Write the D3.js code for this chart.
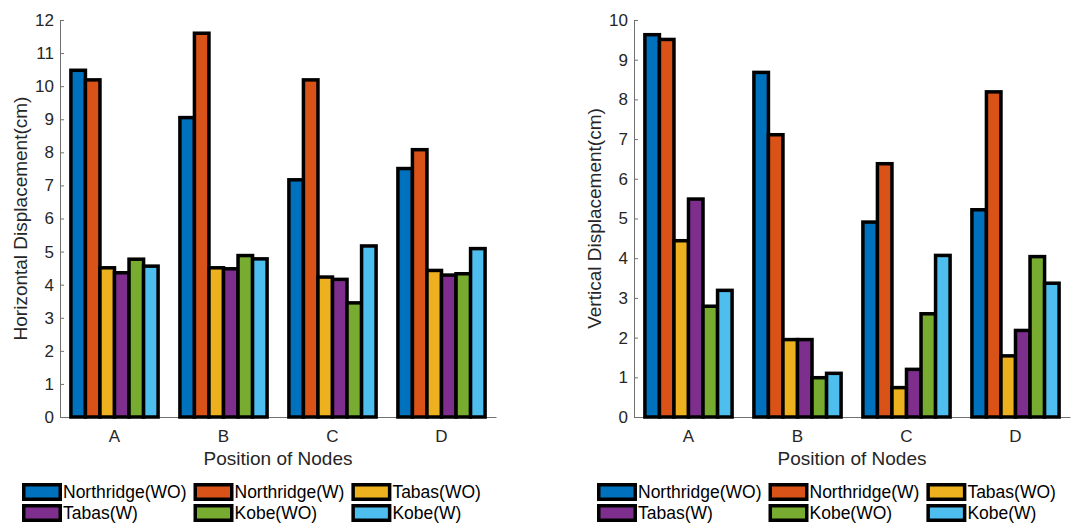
<!DOCTYPE html>
<html>
<head>
<meta charset="utf-8">
<script src="https://cdn.jsdelivr.net/npm/d3@7"></script>
<style>
  body { margin: 0; background: #fff; }
  svg text { font-family: "Liberation Sans", Arial, sans-serif; }
</style>
</head>
<body>
<svg width="1075" height="530"></svg>
<script>
// node positions (x categories)
var nodes = ["A", "B", "C", "D"];
// load cases, one row of values per case
var seriesNames = ["Northridge(WO)", "Northridge(W)", "Tabas(WO)", "Tabas(W)", "Kobe(WO)", "Kobe(W)"];
var seriesColors = ["#0072BD", "#D95319", "#EDB120", "#7E2F8E", "#77AC30", "#4DBEEE"];

// horizontal displacement (cm), rows follow seriesNames, columns follow nodes
var horizontalDisp = [
    [10.48, 9.05, 7.17, 7.51],
    [10.19, 11.6, 10.19, 8.08],
    [4.51, 4.51, 4.23, 4.43],
    [4.36, 4.48, 4.16, 4.29],
    [4.77, 4.88, 3.45, 4.33],
    [4.56, 4.78, 5.17, 5.09]
];
var horizontalTicks = [0, 1, 2, 3, 4, 5, 6, 7, 8, 9, 10, 11, 12];

// vertical displacement (cm)
var verticalDisp = [
    [9.63, 8.68, 4.91, 5.22],
    [9.51, 7.11, 6.38, 8.19],
    [4.44, 1.95, 0.74, 1.54],
    [5.49, 1.95, 1.2, 2.18],
    [2.79, 0.99, 2.6, 4.04],
    [3.19, 1.1, 4.07, 3.37]
];
var verticalTicks = [0, 1, 2, 3, 4, 5, 6, 7, 8, 9, 10];

var PLOT_W = 436, PLOT_H = 397, TOP = 20;
var BAR_STROKE = 3.5;
var svg = d3.select("svg");

function drawChart(left, values, ymax, ticks, yTitle, legendX) {
    var g = svg.append("g").attr("transform", "translate(" + left + "," + TOP + ")");

    var x = d3.scaleBand().domain(nodes).range([0, PLOT_W])
        .paddingInner(0.2).paddingOuter(0.1);
    var xs = d3.scaleBand().domain(d3.range(seriesNames.length)).range([0, x.bandwidth()]);
    var y = d3.scaleLinear().domain([0, ymax]).range([PLOT_H, 0]);

    // axes first, bars go on top of the x ticks
    var yAxis = g.append("g")
        .call(d3.axisLeft(y).tickValues(ticks).tickSizeInner(-4).tickSizeOuter(0).tickPadding(6));
    var xAxis = g.append("g")
        .attr("transform", "translate(0," + PLOT_H + ")")
        .call(d3.axisBottom(x).tickSizeInner(-4).tickSizeOuter(0).tickPadding(12.5));
    [yAxis, xAxis].forEach(function(a) {
        a.selectAll("path, line").attr("stroke", "#707070");
        a.selectAll("text").attr("fill", "#262626").style("font-size", "17px");
    });

    // one group per node, 6 bars inside
    var groups = g.append("g").selectAll("g")
        .data(nodes)
        .enter()
        .append("g")
        .attr("transform", function(d) { return "translate(" + x(d) + ",0)"; });

    groups.selectAll("rect")
        .data(function(d, j) {
            return seriesNames.map(function(s, i) { return { i: i, v: values[i][j] }; });
        })
        .enter()
        .append("rect")
        .attr("x", function(d) { return xs(d.i); })
        .attr("y", function(d) { return y(d.v); })
        .attr("width", xs.bandwidth())
        .attr("height", function(d) { return PLOT_H - y(d.v); })
        .attr("fill", function(d) { return seriesColors[d.i]; })
        .attr("stroke", "#000")
        .attr("stroke-width", BAR_STROKE);

    // axis titles
    g.append("text")
        .attr("x", PLOT_W / 2)
        .attr("y", 445)
        .attr("text-anchor", "middle")
        .attr("fill", "#262626")
        .style("font-size", "19px")
        .text("Position of Nodes");
    g.append("text")
        .attr("transform", "translate(-40," + (PLOT_H / 2) + ") rotate(-90)")
        .attr("dy", "0.35em")
        .attr("text-anchor", "middle")
        .attr("fill", "#262626")
        .style("font-size", "19px")
        .text(yTitle);

    // legend: 3 columns x 2 rows, column width from the widest label
    var leg = svg.append("g").attr("transform", "translate(" + legendX + ",483)");
    var cols = 3, sw = 40 - BAR_STROKE, sh = 18 - BAR_STROKE, rowH = 21;
    var colX = 0;
    for (var c = 0; c < cols; c++) {
        var maxW = 0;
        for (var r = 0; r < 2; r++) {
            var i = r * cols + c;
            var item = leg.append("g").attr("transform", "translate(" + colX + "," + (r * rowH) + ")");
            item.append("rect")
                .attr("x", BAR_STROKE / 2).attr("y", BAR_STROKE / 2)
                .attr("width", sw).attr("height", sh)
                .attr("fill", seriesColors[i])
                .attr("stroke", "#000")
                .attr("stroke-width", BAR_STROKE);
            var t = item.append("text")
                .attr("x", 41)
                .attr("y", 9)
                .attr("dy", "0.36em")
                .style("font-size", "17.5px")
                .attr("fill", "#000")
                .text(seriesNames[i]);
            maxW = Math.max(maxW, t.node().getComputedTextLength());
        }
        colX += 41 + maxW + 7;
    }
}

drawChart(60, horizontalDisp, 12, horizontalTicks, "Horizontal Displacement(cm)", 22);
drawChart(634, verticalDisp, 10, verticalTicks, "Vertical Displacement(cm)", 597);
</script>
</body>
</html>
